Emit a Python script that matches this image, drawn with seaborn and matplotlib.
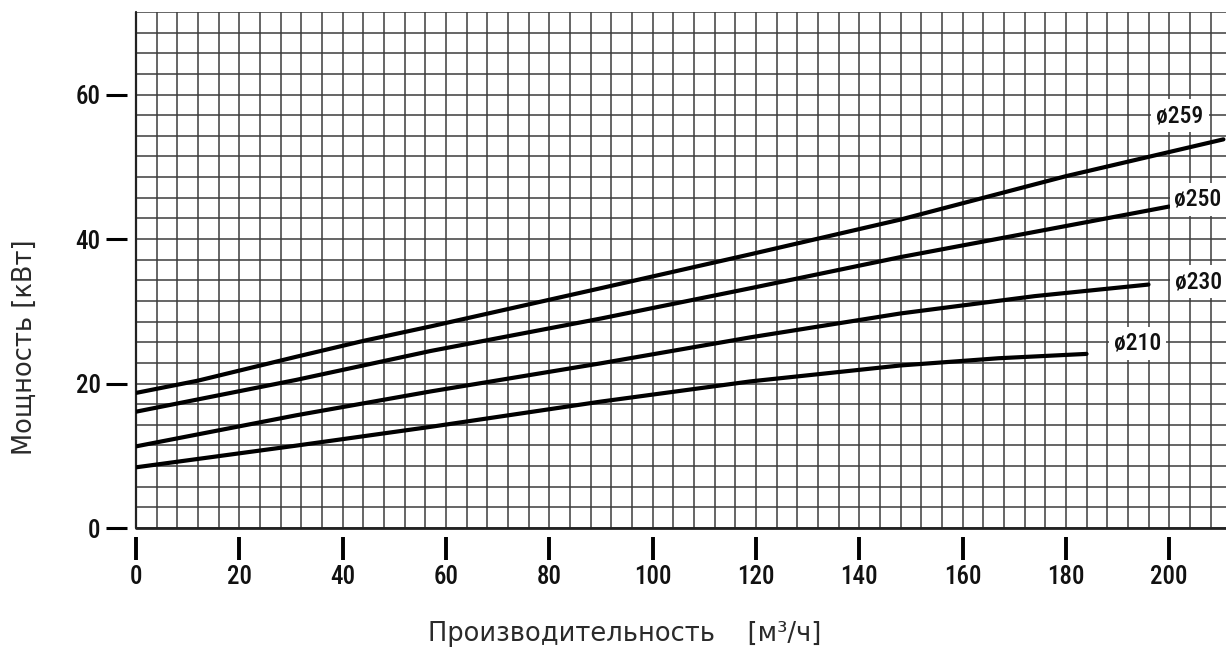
import numpy as np
import pandas as pd
import matplotlib
matplotlib.use("Agg")
import matplotlib.pyplot as plt
from matplotlib.ticker import MultipleLocator
from matplotlib import font_manager
import seaborn as sns

# ---- data ----
series_labels = ["ø259", "ø250", "ø230", "ø210"]
x_259 = [0, 12, 31, 44, 57, 90, 119, 148, 180, 210.5]
y_259 = [18.7, 20.4, 23.7, 25.9, 27.9, 33.2, 37.9, 42.7, 48.7, 53.8]
x_250 = [0, 31, 57, 90, 119, 148, 180, 200]
y_250 = [16.1, 20.5, 24.5, 29.0, 33.2, 37.5, 41.8, 44.5]
x_230 = [0, 31, 57, 90, 119, 148, 174, 196]
y_230 = [11.3, 15.6, 18.9, 22.8, 26.4, 29.7, 32.1, 33.7]
x_210 = [0, 31, 57, 90, 119, 148, 167, 184]
y_210 = [8.4, 11.4, 14.0, 17.5, 20.3, 22.5, 23.5, 24.1]
label_x = [202.1, 205.6, 205.6, 193.8]
label_y = [57.1, 45.5, 34.1, 25.6]
x_ticks = [0, 20, 40, 60, 80, 100, 120, 140, 160, 180, 200]
y_ticks = [0, 20, 40, 60]
x_label = "Производительность    [м³/ч]"
y_label = "Мощность [кВт]"

xs = [x_259, x_250, x_230, x_210]
ys = [y_259, y_250, y_230, y_210]
df = pd.concat([pd.DataFrame({"x": xv, "y": yv, "d": lab})
                for xv, yv, lab in zip(xs, ys, series_labels)], ignore_index=True)

sns.set_theme(style="white")
plt.rcParams["font.family"] = ["DejaVu Sans"]

installed = {f.name for f in font_manager.fontManager.ttflist}
cands = ["Liberation Sans Narrow", "Roboto Condensed", "DejaVu Sans Condensed",
         "Open Sans Condensed", "Noto Sans Condensed"]
narrow = [c for c in cands if c in installed]
tick_font = (narrow[:1] if narrow else []) + ["DejaVu Sans"]
tick_size = 18 if narrow else 14
tick_weight = "medium" if narrow else "normal"

fig = plt.figure(figsize=(12.26, 6.47), dpi=100)
ax = fig.add_axes([136 / 1226, 119 / 647, 1090 / 1226, 516 / 647])

sns.lineplot(data=df, x="x", y="y", hue="d", palette=["black"] * 4,
             linewidth=3.0, legend=False, ax=ax, sort=True, zorder=3)

ax.set_xlim(0, 211)
ax.set_ylim(0, 25 * 20 / 7)

ax.set_xticks(x_ticks)
ax.set_yticks(y_ticks)
ax.xaxis.set_minor_locator(MultipleLocator(4))
ax.yaxis.set_minor_locator(MultipleLocator(20 / 7))
ax.grid(True, which="both", color="#3c3c3c", linewidth=1.1)
ax.set_axisbelow(True)

for s in ["left", "bottom"]:
    ax.spines[s].set_position(("outward", 6.5))
    ax.spines[s].set_visible(False)
for s in ["top", "right"]:
    ax.spines[s].set_visible(False)

ax.tick_params(axis="x", which="major", direction="out", length=16.5, width=2.8,
               color="black", pad=4, labelsize=tick_size, bottom=True)
ax.tick_params(axis="y", which="major", direction="out", length=15, width=2.2,
               color="black", pad=4, labelsize=tick_size, left=True)
ax.tick_params(which="minor", length=0)
for lab in ax.get_xticklabels() + ax.get_yticklabels():
    lab.set_family(tick_font)
    lab.set_weight(tick_weight)
    lab.set_color("#111111")

ax.axhline(0, color="#222222", linewidth=2.0, zorder=2, clip_on=False)
ax.axvline(0, color="#222222", linewidth=1.6, zorder=2, clip_on=False)

ax.set_xlabel(x_label, fontsize=18.5, color="#2a2a2a")
ax.set_ylabel(y_label, fontsize=18.5, color="#2a2a2a")
ax.xaxis.label.set_va("center")
ax.yaxis.label.set_va("center")
ax.xaxis.set_label_coords(0.448, -0.205)
ax.yaxis.set_label_coords(-0.102, 0.351)

for lab, lx, ly in zip(series_labels, label_x, label_y):
    ax.text(lx, ly, lab, ha="center", va="center", fontsize=tick_size - 1,
            family=tick_font, weight=tick_weight, color="#111111", zorder=4,
            bbox=dict(facecolor="white", edgecolor="none", pad=3.5))

fig.savefig("out.png", dpi=100)
